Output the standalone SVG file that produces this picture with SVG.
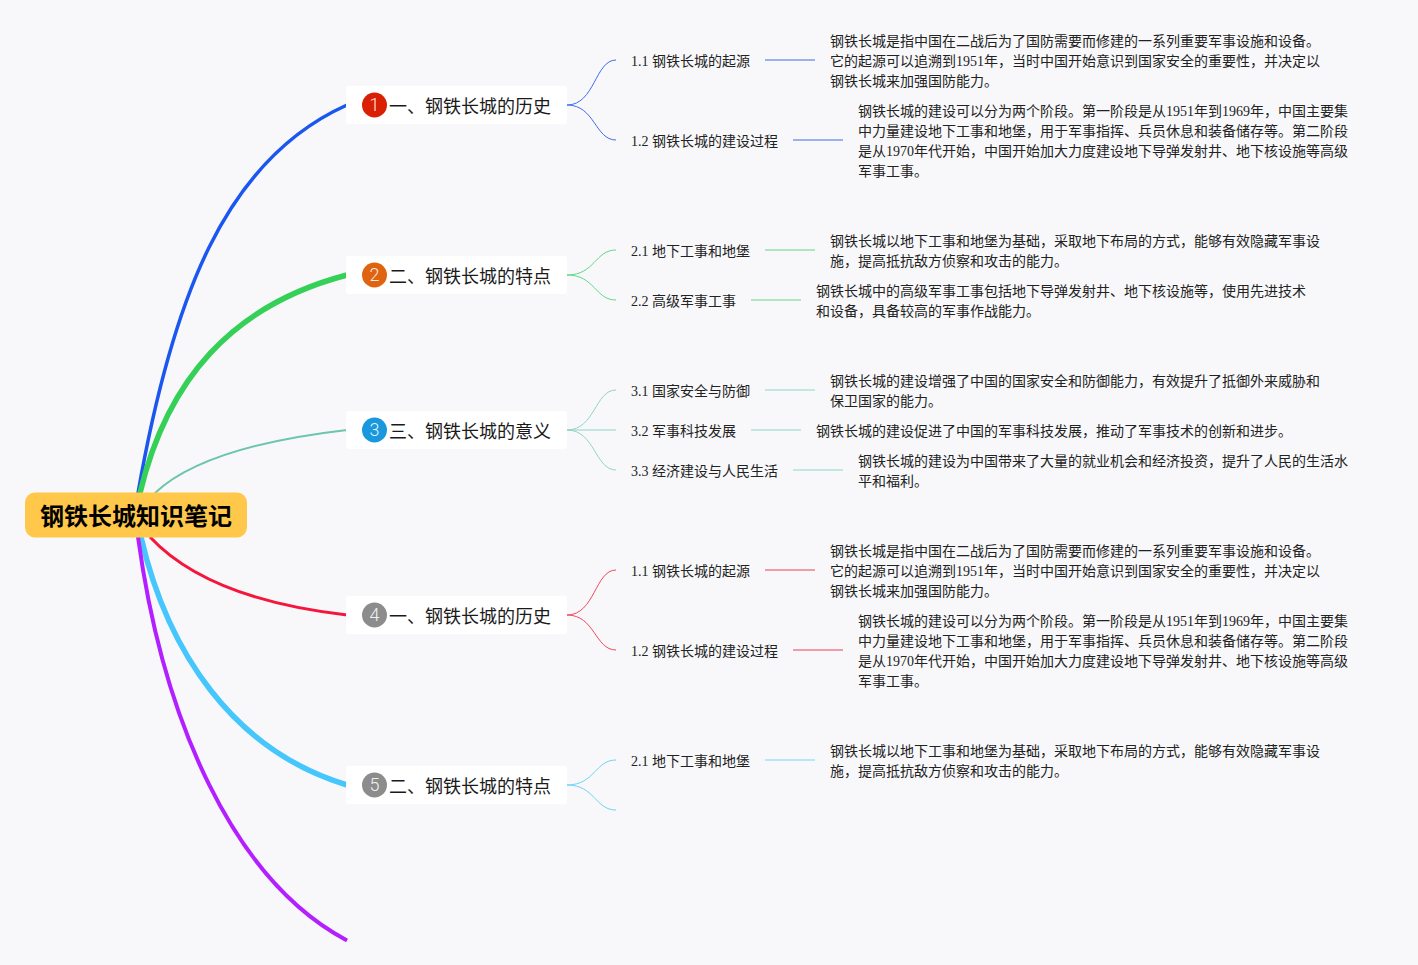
<svg xmlns="http://www.w3.org/2000/svg" width="1418" height="965" viewBox="0 0 1418 965">
<style>
text{font-family:"Liberation Serif","Noto Sans CJK SC",serif;fill:#222}
.t{font-size:14px}
.m{font-size:18px;fill:#1a1a1a}
.r{font-size:24px;font-weight:700;fill:#000;font-family:"Noto Sans CJK SC","Liberation Sans",sans-serif}
.n{font-family:Roboto,"Liberation Sans",sans-serif;font-size:18px;font-weight:300;fill:#fff;fill-opacity:.9;text-anchor:middle}
.bg{fill:#fff}
.c{fill:none}
.b{fill:none;stroke-width:1}
.l{fill:none;stroke-width:1.600}
</style>
<rect width="1418" height="965" fill="#f8f8fa"/>
<g id="connectors">
<path class="c" stroke="#1a56f0" stroke-width="3.500" d="M138 493C172 300 224 160 347 105"/>
<path class="c" stroke="#35d058" stroke-width="5.500" d="M140 493C167 380 232 305 347 275"/>
<path class="c" stroke="#6cc5ae" stroke-width="2" d="M155 493C190 460 260 440 347 430"/>
<path class="c" stroke="#f5163c" stroke-width="3" d="M150 537C190 580 260 605 347 615"/>
<path class="c" stroke="#45c6fc" stroke-width="5.500" d="M141 537C167 650 232 750 347 785"/>
<path class="c" stroke="#b31fff" stroke-width="4" d="M138 537C163 720 233 880 347 940.500"/>
<g stroke="#3d6df0"><path class="b" d="M567 105C595 105 595 60 616 60"/><path class="b" d="M567 105C595 105 595 140 616 140"/></g>
<g stroke="#7d9ae6"><path class="l" d="M765 60H815"/><path class="l" d="M793 140H843"/></g>
<g stroke="#5fd88a"><path class="b" d="M567 275C595 275 595 250 616 250"/><path class="b" d="M567 275C595 275 595 300 616 300"/></g>
<g stroke="#96e0ae"><path class="l" d="M765 250H815"/><path class="l" d="M751 300H801"/></g>
<g stroke="#8ed6c3"><path class="b" d="M567 430C595 430 595 390 616 390"/><path class="b" d="M567 430H616"/><path class="b" d="M567 430C595 430 595 470 616 470"/></g>
<g stroke="#aee3d6"><path class="l" d="M765 390H815"/><path class="l" d="M751 430H801"/><path class="l" d="M793 470H843"/></g>
<g stroke="#f2475f"><path class="b" d="M567 615C595 615 595 570 616 570"/><path class="b" d="M567 615C595 615 595 650 616 650"/></g>
<g stroke="#ee7d8e"><path class="l" d="M765 570H815"/><path class="l" d="M793 650H843"/></g>
<g stroke="#6fd3f7"><path class="b" d="M567 785C595 785 595 760 616 760"/><path class="b" d="M567 785C595 785 595 810 616 810"/></g>
<g stroke="#a3e2f8"><path class="l" d="M765 760H815"/></g>
</g>
<g id="root"><rect x="25" y="492.500" width="222" height="45" rx="10" fill="#ffc84a"/><text class="r" x="40" y="525">钢铁长城知识笔记</text></g>
<g id="n1"><rect class="bg" x="346" y="86" width="221" height="38" rx="3"/><circle cx="374.500" cy="105" r="12.500" fill="#d92005"/><text class="n" x="374.500" y="111">1</text><text class="m" x="389" y="112.500">一、钢铁长城的历史</text></g>
<g id="n2"><rect class="bg" x="346" y="256" width="221" height="38" rx="3"/><circle cx="374.500" cy="275" r="12.500" fill="#e0640f"/><text class="n" x="374.500" y="281">2</text><text class="m" x="389" y="282.500">二、钢铁长城的特点</text></g>
<g id="n3"><rect class="bg" x="346" y="411" width="221" height="38" rx="3"/><circle cx="374.500" cy="430" r="12.500" fill="#1a98dd"/><text class="n" x="374.500" y="436">3</text><text class="m" x="389" y="437.500">三、钢铁长城的意义</text></g>
<g id="n4"><rect class="bg" x="346" y="596" width="221" height="38" rx="3"/><circle cx="374.500" cy="615" r="12.500" fill="#8c8c8c"/><text class="n" x="374.500" y="621">4</text><text class="m" x="389" y="622.500">一、钢铁长城的历史</text></g>
<g id="n5"><rect class="bg" x="346" y="766" width="221" height="38" rx="3"/><circle cx="374.500" cy="785" r="12.500" fill="#8c8c8c"/><text class="n" x="374.500" y="791">5</text><text class="m" x="389" y="792.500">二、钢铁长城的特点</text></g>
<g id="s11"><text class="t" x="631" y="66">1.1 钢铁长城的起源</text></g>
<g id="d11"><text class="t" x="830" y="46">钢铁长城是指中国在二战后为了国防需要而修建的一系列重要军事设施和设备。</text><text class="t" x="830" y="66">它的起源可以追溯到1951年，当时中国开始意识到国家安全的重要性，并决定以</text><text class="t" x="830" y="86">钢铁长城来加强国防能力。</text></g>
<g id="s12"><text class="t" x="631" y="146">1.2 钢铁长城的建设过程</text></g>
<g id="d12"><text class="t" x="858" y="116">钢铁长城的建设可以分为两个阶段。第一阶段是从1951年到1969年，中国主要集</text><text class="t" x="858" y="136">中力量建设地下工事和地堡，用于军事指挥、兵员休息和装备储存等。第二阶段</text><text class="t" x="858" y="156">是从1970年代开始，中国开始加大力度建设地下导弹发射井、地下核设施等高级</text><text class="t" x="858" y="176">军事工事。</text></g>
<g id="s21"><text class="t" x="631" y="256">2.1 地下工事和地堡</text></g>
<g id="d21"><text class="t" x="830" y="246">钢铁长城以地下工事和地堡为基础，采取地下布局的方式，能够有效隐藏军事设</text><text class="t" x="830" y="266">施，提高抵抗敌方侦察和攻击的能力。</text></g>
<g id="s22"><text class="t" x="631" y="306">2.2 高级军事工事</text></g>
<g id="d22"><text class="t" x="816" y="296">钢铁长城中的高级军事工事包括地下导弹发射井、地下核设施等，使用先进技术</text><text class="t" x="816" y="316">和设备，具备较高的军事作战能力。</text></g>
<g id="s31"><text class="t" x="631" y="396">3.1 国家安全与防御</text></g>
<g id="d31"><text class="t" x="830" y="386">钢铁长城的建设增强了中国的国家安全和防御能力，有效提升了抵御外来威胁和</text><text class="t" x="830" y="406">保卫国家的能力。</text></g>
<g id="s32"><text class="t" x="631" y="436">3.2 军事科技发展</text></g>
<g id="d32"><text class="t" x="816" y="436">钢铁长城的建设促进了中国的军事科技发展，推动了军事技术的创新和进步。</text></g>
<g id="s33"><text class="t" x="631" y="476">3.3 经济建设与人民生活</text></g>
<g id="d33"><text class="t" x="858" y="466">钢铁长城的建设为中国带来了大量的就业机会和经济投资，提升了人民的生活水</text><text class="t" x="858" y="486">平和福利。</text></g>
<g id="s41"><text class="t" x="631" y="576">1.1 钢铁长城的起源</text></g>
<g id="d41"><text class="t" x="830" y="556">钢铁长城是指中国在二战后为了国防需要而修建的一系列重要军事设施和设备。</text><text class="t" x="830" y="576">它的起源可以追溯到1951年，当时中国开始意识到国家安全的重要性，并决定以</text><text class="t" x="830" y="596">钢铁长城来加强国防能力。</text></g>
<g id="s42"><text class="t" x="631" y="656">1.2 钢铁长城的建设过程</text></g>
<g id="d42"><text class="t" x="858" y="626">钢铁长城的建设可以分为两个阶段。第一阶段是从1951年到1969年，中国主要集</text><text class="t" x="858" y="646">中力量建设地下工事和地堡，用于军事指挥、兵员休息和装备储存等。第二阶段</text><text class="t" x="858" y="666">是从1970年代开始，中国开始加大力度建设地下导弹发射井、地下核设施等高级</text><text class="t" x="858" y="686">军事工事。</text></g>
<g id="s51"><text class="t" x="631" y="766">2.1 地下工事和地堡</text></g>
<g id="d51"><text class="t" x="830" y="756">钢铁长城以地下工事和地堡为基础，采取地下布局的方式，能够有效隐藏军事设</text><text class="t" x="830" y="776">施，提高抵抗敌方侦察和攻击的能力。</text></g>
</svg>
